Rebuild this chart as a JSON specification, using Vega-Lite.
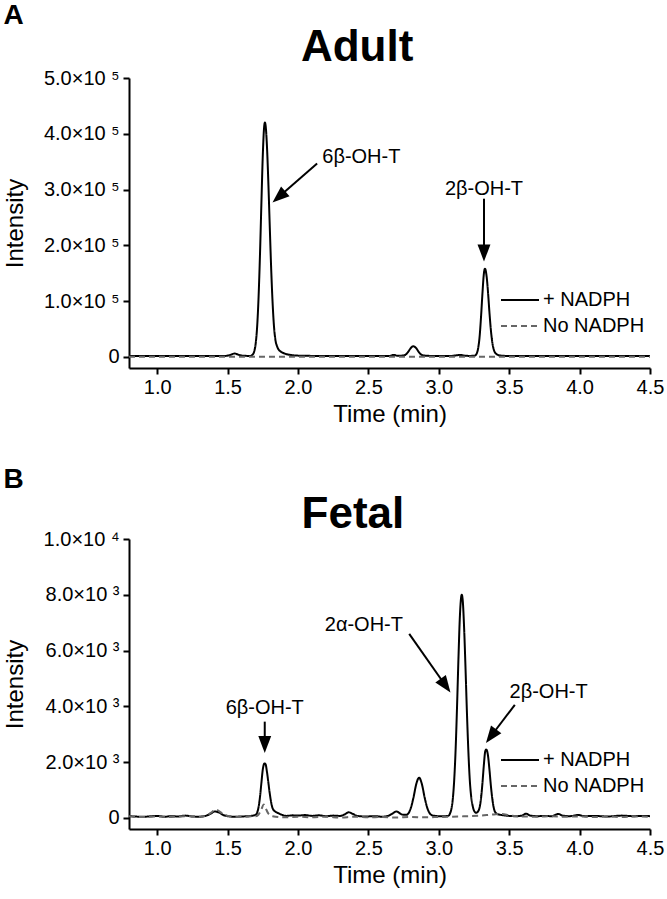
{
  "$schema": "https://vega.github.io/schema/vega-lite/v6.json",
  "padding": {"left": 3, "top": 2, "right": 3, "bottom": 5},
  "spacing": 40,
  "config": {
    "font": "Liberation Sans",
    "view": {"stroke": null},
    "axis": {
      "labelFont": "Liberation Sans", "labelFontSize": 20, "labelColor": "#000",
      "titleFont": "Liberation Sans", "titleFontSize": 24, "titleFontWeight": "normal", "titleColor": "#000",
      "domainColor": "#000", "domainWidth": 2, "tickColor": "#000", "tickWidth": 2, "tickSize": 6,
      "grid": false, "labelFlush": false, "labelOverlap": false
    },
    "legend": {
      "labelFont": "Liberation Sans", "labelFontSize": 20, "labelColor": "#000",
      "symbolType": "stroke", "symbolSize": 1444, "symbolStrokeWidth": 2,
      "clipHeight": 20, "rowPadding": 6, "labelOffset": 3, "padding": 0
    },
    "text": {"font": "Liberation Sans", "color": "#000"}
  },
  "resolve": {
    "scale": {"color": "independent", "strokeDash": "independent"},
    "legend": {"color": "independent", "strokeDash": "independent"}
  },
  "datasets": {
    "adult": [
      {"t":0.80,"v":1500,"s":"+ NADPH"},{"t":0.90,"v":1400,"s":"+ NADPH"},{"t":1.00,"v":1600,"s":"+ NADPH"},{"t":1.10,"v":1500,"s":"+ NADPH"},{"t":1.20,"v":1400,"s":"+ NADPH"},{"t":1.30,"v":1600,"s":"+ NADPH"},{"t":1.40,"v":1500,"s":"+ NADPH"},{"t":1.48,"v":1600,"s":"+ NADPH"},{"t":1.52,"v":3500,"s":"+ NADPH"},{"t":1.55,"v":6000,"s":"+ NADPH"},{"t":1.58,"v":3500,"s":"+ NADPH"},{"t":1.62,"v":1800,"s":"+ NADPH"},{"t":1.66,"v":1700,"s":"+ NADPH"},{"t":1.68,"v":4500,"s":"+ NADPH"},{"t":1.69,"v":10300,"s":"+ NADPH"},{"t":1.70,"v":24500,"s":"+ NADPH"},{"t":1.71,"v":54000,"s":"+ NADPH"},{"t":1.72,"v":106000,"s":"+ NADPH"},{"t":1.73,"v":181500,"s":"+ NADPH"},{"t":1.74,"v":273000,"s":"+ NADPH"},{"t":1.75,"v":360000,"s":"+ NADPH"},{"t":1.76,"v":413000,"s":"+ NADPH"},{"t":1.765,"v":420000,"s":"+ NADPH"},{"t":1.77,"v":415000,"s":"+ NADPH"},{"t":1.78,"v":376000,"s":"+ NADPH"},{"t":1.79,"v":309500,"s":"+ NADPH"},{"t":1.80,"v":231000,"s":"+ NADPH"},{"t":1.81,"v":156000,"s":"+ NADPH"},{"t":1.82,"v":96000,"s":"+ NADPH"},{"t":1.83,"v":53500,"s":"+ NADPH"},{"t":1.84,"v":30000,"s":"+ NADPH"},{"t":1.85,"v":20000,"s":"+ NADPH"},{"t":1.86,"v":14000,"s":"+ NADPH"},{"t":1.88,"v":9000,"s":"+ NADPH"},{"t":1.90,"v":6500,"s":"+ NADPH"},{"t":1.93,"v":4200,"s":"+ NADPH"},{"t":1.97,"v":2800,"s":"+ NADPH"},{"t":2.02,"v":2000,"s":"+ NADPH"},{"t":2.10,"v":1700,"s":"+ NADPH"},{"t":2.20,"v":1500,"s":"+ NADPH"},{"t":2.30,"v":1600,"s":"+ NADPH"},{"t":2.40,"v":1500,"s":"+ NADPH"},{"t":2.50,"v":1600,"s":"+ NADPH"},{"t":2.60,"v":1500,"s":"+ NADPH"},{"t":2.65,"v":1700,"s":"+ NADPH"},{"t":2.68,"v":3500,"s":"+ NADPH"},{"t":2.71,"v":1800,"s":"+ NADPH"},{"t":2.74,"v":2200,"s":"+ NADPH"},{"t":2.76,"v":3300,"s":"+ NADPH"},{"t":2.78,"v":8000,"s":"+ NADPH"},{"t":2.80,"v":15400,"s":"+ NADPH"},{"t":2.82,"v":19000,"s":"+ NADPH"},{"t":2.84,"v":15400,"s":"+ NADPH"},{"t":2.86,"v":8000,"s":"+ NADPH"},{"t":2.88,"v":3300,"s":"+ NADPH"},{"t":2.92,"v":1800,"s":"+ NADPH"},{"t":3.00,"v":1500,"s":"+ NADPH"},{"t":3.08,"v":1600,"s":"+ NADPH"},{"t":3.12,"v":2500,"s":"+ NADPH"},{"t":3.15,"v":3500,"s":"+ NADPH"},{"t":3.18,"v":2300,"s":"+ NADPH"},{"t":3.22,"v":1700,"s":"+ NADPH"},{"t":3.25,"v":2000,"s":"+ NADPH"},{"t":3.26,"v":2800,"s":"+ NADPH"},{"t":3.27,"v":6400,"s":"+ NADPH"},{"t":3.28,"v":16000,"s":"+ NADPH"},{"t":3.29,"v":36500,"s":"+ NADPH"},{"t":3.30,"v":71500,"s":"+ NADPH"},{"t":3.31,"v":113500,"s":"+ NADPH"},{"t":3.32,"v":148500,"s":"+ NADPH"},{"t":3.328,"v":158000,"s":"+ NADPH"},{"t":3.34,"v":143500,"s":"+ NADPH"},{"t":3.35,"v":114500,"s":"+ NADPH"},{"t":3.36,"v":79000,"s":"+ NADPH"},{"t":3.37,"v":48000,"s":"+ NADPH"},{"t":3.38,"v":26000,"s":"+ NADPH"},{"t":3.39,"v":13500,"s":"+ NADPH"},{"t":3.40,"v":7500,"s":"+ NADPH"},{"t":3.42,"v":3500,"s":"+ NADPH"},{"t":3.45,"v":2000,"s":"+ NADPH"},{"t":3.50,"v":1600,"s":"+ NADPH"},{"t":3.60,"v":1500,"s":"+ NADPH"},{"t":3.70,"v":1600,"s":"+ NADPH"},{"t":3.80,"v":1500,"s":"+ NADPH"},{"t":3.90,"v":1400,"s":"+ NADPH"},{"t":4.00,"v":1600,"s":"+ NADPH"},{"t":4.10,"v":1500,"s":"+ NADPH"},{"t":4.20,"v":1500,"s":"+ NADPH"},{"t":4.30,"v":1600,"s":"+ NADPH"},{"t":4.40,"v":1500,"s":"+ NADPH"},{"t":4.50,"v":1500,"s":"+ NADPH"},
      {"t":0.80,"v":0,"s":"No NADPH"},{"t":1.20,"v":0,"s":"No NADPH"},{"t":1.60,"v":0,"s":"No NADPH"},{"t":2.00,"v":0,"s":"No NADPH"},{"t":2.40,"v":0,"s":"No NADPH"},{"t":2.80,"v":0,"s":"No NADPH"},{"t":3.20,"v":0,"s":"No NADPH"},{"t":3.60,"v":0,"s":"No NADPH"},{"t":4.00,"v":0,"s":"No NADPH"},{"t":4.50,"v":0,"s":"No NADPH"}
    ],
    "fetal": [
      {"t":0.80,"v":60,"s":"+ NADPH"},{"t":0.90,"v":40,"s":"+ NADPH"},{"t":1.00,"v":70,"s":"+ NADPH"},{"t":1.05,"v":40,"s":"+ NADPH"},{"t":1.10,"v":60,"s":"+ NADPH"},{"t":1.15,"v":50,"s":"+ NADPH"},{"t":1.20,"v":80,"s":"+ NADPH"},{"t":1.25,"v":50,"s":"+ NADPH"},{"t":1.30,"v":40,"s":"+ NADPH"},{"t":1.35,"v":80,"s":"+ NADPH"},{"t":1.38,"v":150,"s":"+ NADPH"},{"t":1.41,"v":230,"s":"+ NADPH"},{"t":1.44,"v":190,"s":"+ NADPH"},{"t":1.47,"v":100,"s":"+ NADPH"},{"t":1.50,"v":60,"s":"+ NADPH"},{"t":1.55,"v":40,"s":"+ NADPH"},{"t":1.60,"v":50,"s":"+ NADPH"},{"t":1.65,"v":60,"s":"+ NADPH"},{"t":1.68,"v":80,"s":"+ NADPH"},{"t":1.70,"v":110,"s":"+ NADPH"},{"t":1.71,"v":190,"s":"+ NADPH"},{"t":1.72,"v":380,"s":"+ NADPH"},{"t":1.73,"v":740,"s":"+ NADPH"},{"t":1.74,"v":1240,"s":"+ NADPH"},{"t":1.75,"v":1730,"s":"+ NADPH"},{"t":1.762,"v":1950,"s":"+ NADPH"},{"t":1.77,"v":1920,"s":"+ NADPH"},{"t":1.78,"v":1640,"s":"+ NADPH"},{"t":1.79,"v":1250,"s":"+ NADPH"},{"t":1.80,"v":860,"s":"+ NADPH"},{"t":1.81,"v":545,"s":"+ NADPH"},{"t":1.82,"v":340,"s":"+ NADPH"},{"t":1.84,"v":220,"s":"+ NADPH"},{"t":1.86,"v":170,"s":"+ NADPH"},{"t":1.88,"v":120,"s":"+ NADPH"},{"t":1.92,"v":70,"s":"+ NADPH"},{"t":1.96,"v":90,"s":"+ NADPH"},{"t":2.00,"v":80,"s":"+ NADPH"},{"t":2.05,"v":100,"s":"+ NADPH"},{"t":2.10,"v":70,"s":"+ NADPH"},{"t":2.15,"v":90,"s":"+ NADPH"},{"t":2.20,"v":60,"s":"+ NADPH"},{"t":2.25,"v":80,"s":"+ NADPH"},{"t":2.30,"v":70,"s":"+ NADPH"},{"t":2.33,"v":120,"s":"+ NADPH"},{"t":2.36,"v":200,"s":"+ NADPH"},{"t":2.39,"v":140,"s":"+ NADPH"},{"t":2.42,"v":70,"s":"+ NADPH"},{"t":2.48,"v":50,"s":"+ NADPH"},{"t":2.55,"v":60,"s":"+ NADPH"},{"t":2.60,"v":40,"s":"+ NADPH"},{"t":2.64,"v":70,"s":"+ NADPH"},{"t":2.67,"v":150,"s":"+ NADPH"},{"t":2.70,"v":230,"s":"+ NADPH"},{"t":2.73,"v":140,"s":"+ NADPH"},{"t":2.75,"v":110,"s":"+ NADPH"},{"t":2.77,"v":110,"s":"+ NADPH"},{"t":2.78,"v":135,"s":"+ NADPH"},{"t":2.80,"v":330,"s":"+ NADPH"},{"t":2.82,"v":720,"s":"+ NADPH"},{"t":2.84,"v":1210,"s":"+ NADPH"},{"t":2.86,"v":1440,"s":"+ NADPH"},{"t":2.88,"v":1210,"s":"+ NADPH"},{"t":2.90,"v":720,"s":"+ NADPH"},{"t":2.92,"v":330,"s":"+ NADPH"},{"t":2.94,"v":135,"s":"+ NADPH"},{"t":2.96,"v":80,"s":"+ NADPH"},{"t":3.00,"v":60,"s":"+ NADPH"},{"t":3.04,"v":60,"s":"+ NADPH"},{"t":3.07,"v":80,"s":"+ NADPH"},{"t":3.08,"v":160,"s":"+ NADPH"},{"t":3.09,"v":330,"s":"+ NADPH"},{"t":3.10,"v":700,"s":"+ NADPH"},{"t":3.11,"v":1400,"s":"+ NADPH"},{"t":3.12,"v":2510,"s":"+ NADPH"},{"t":3.13,"v":4050,"s":"+ NADPH"},{"t":3.14,"v":5770,"s":"+ NADPH"},{"t":3.15,"v":7240,"s":"+ NADPH"},{"t":3.163,"v":8000,"s":"+ NADPH"},{"t":3.17,"v":7800,"s":"+ NADPH"},{"t":3.18,"v":6800,"s":"+ NADPH"},{"t":3.19,"v":5340,"s":"+ NADPH"},{"t":3.20,"v":3760,"s":"+ NADPH"},{"t":3.21,"v":2400,"s":"+ NADPH"},{"t":3.22,"v":1370,"s":"+ NADPH"},{"t":3.23,"v":765,"s":"+ NADPH"},{"t":3.24,"v":445,"s":"+ NADPH"},{"t":3.25,"v":260,"s":"+ NADPH"},{"t":3.265,"v":180,"s":"+ NADPH"},{"t":3.28,"v":240,"s":"+ NADPH"},{"t":3.29,"v":375,"s":"+ NADPH"},{"t":3.30,"v":700,"s":"+ NADPH"},{"t":3.31,"v":1240,"s":"+ NADPH"},{"t":3.32,"v":1890,"s":"+ NADPH"},{"t":3.33,"v":2390,"s":"+ NADPH"},{"t":3.337,"v":2450,"s":"+ NADPH"},{"t":3.34,"v":2440,"s":"+ NADPH"},{"t":3.35,"v":2210,"s":"+ NADPH"},{"t":3.36,"v":1720,"s":"+ NADPH"},{"t":3.37,"v":1150,"s":"+ NADPH"},{"t":3.38,"v":690,"s":"+ NADPH"},{"t":3.39,"v":370,"s":"+ NADPH"},{"t":3.40,"v":210,"s":"+ NADPH"},{"t":3.42,"v":130,"s":"+ NADPH"},{"t":3.45,"v":100,"s":"+ NADPH"},{"t":3.50,"v":70,"s":"+ NADPH"},{"t":3.55,"v":60,"s":"+ NADPH"},{"t":3.59,"v":80,"s":"+ NADPH"},{"t":3.62,"v":150,"s":"+ NADPH"},{"t":3.65,"v":80,"s":"+ NADPH"},{"t":3.70,"v":60,"s":"+ NADPH"},{"t":3.75,"v":70,"s":"+ NADPH"},{"t":3.80,"v":60,"s":"+ NADPH"},{"t":3.85,"v":140,"s":"+ NADPH"},{"t":3.88,"v":80,"s":"+ NADPH"},{"t":3.93,"v":60,"s":"+ NADPH"},{"t":3.99,"v":100,"s":"+ NADPH"},{"t":4.04,"v":60,"s":"+ NADPH"},{"t":4.10,"v":70,"s":"+ NADPH"},{"t":4.20,"v":50,"s":"+ NADPH"},{"t":4.30,"v":80,"s":"+ NADPH"},{"t":4.38,"v":60,"s":"+ NADPH"},{"t":4.45,"v":70,"s":"+ NADPH"},{"t":4.50,"v":60,"s":"+ NADPH"},
      {"t":0.80,"v":60,"s":"No NADPH"},{"t":0.90,"v":30,"s":"No NADPH"},{"t":1.00,"v":50,"s":"No NADPH"},{"t":1.10,"v":30,"s":"No NADPH"},{"t":1.20,"v":60,"s":"No NADPH"},{"t":1.30,"v":40,"s":"No NADPH"},{"t":1.35,"v":80,"s":"No NADPH"},{"t":1.38,"v":180,"s":"No NADPH"},{"t":1.42,"v":290,"s":"No NADPH"},{"t":1.46,"v":170,"s":"No NADPH"},{"t":1.50,"v":70,"s":"No NADPH"},{"t":1.55,"v":40,"s":"No NADPH"},{"t":1.60,"v":30,"s":"No NADPH"},{"t":1.65,"v":50,"s":"No NADPH"},{"t":1.70,"v":60,"s":"No NADPH"},{"t":1.72,"v":120,"s":"No NADPH"},{"t":1.74,"v":300,"s":"No NADPH"},{"t":1.756,"v":480,"s":"No NADPH"},{"t":1.77,"v":350,"s":"No NADPH"},{"t":1.79,"v":150,"s":"No NADPH"},{"t":1.82,"v":60,"s":"No NADPH"},{"t":1.90,"v":20,"s":"No NADPH"},{"t":2.00,"v":40,"s":"No NADPH"},{"t":2.10,"v":20,"s":"No NADPH"},{"t":2.20,"v":40,"s":"No NADPH"},{"t":2.30,"v":10,"s":"No NADPH"},{"t":2.40,"v":40,"s":"No NADPH"},{"t":2.50,"v":20,"s":"No NADPH"},{"t":2.60,"v":30,"s":"No NADPH"},{"t":2.70,"v":10,"s":"No NADPH"},{"t":2.80,"v":30,"s":"No NADPH"},{"t":2.90,"v":20,"s":"No NADPH"},{"t":3.00,"v":30,"s":"No NADPH"},{"t":3.10,"v":40,"s":"No NADPH"},{"t":3.20,"v":60,"s":"No NADPH"},{"t":3.30,"v":80,"s":"No NADPH"},{"t":3.38,"v":120,"s":"No NADPH"},{"t":3.45,"v":140,"s":"No NADPH"},{"t":3.50,"v":90,"s":"No NADPH"},{"t":3.60,"v":50,"s":"No NADPH"},{"t":3.70,"v":40,"s":"No NADPH"},{"t":3.80,"v":60,"s":"No NADPH"},{"t":3.90,"v":40,"s":"No NADPH"},{"t":4.00,"v":50,"s":"No NADPH"},{"t":4.10,"v":30,"s":"No NADPH"},{"t":4.20,"v":50,"s":"No NADPH"},{"t":4.30,"v":30,"s":"No NADPH"},{"t":4.40,"v":50,"s":"No NADPH"},{"t":4.50,"v":40,"s":"No NADPH"}
    ],
    "adultNotes": [{"t":2.45,"v":348400,"label":"6β-OH-T"},{"t":3.321,"v":291000,"label":"2β-OH-T"}],
    "adultArrows": [{"t":2.136,"v":346600,"t2":1.861,"v2":286000},{"t":3.321,"v":283600,"t2":3.321,"v2":185200}],
    "adultHead6b": [{"t":1.819,"v":276700}],
    "adultHead2b": [{"t":3.321,"v":170900}],
    "adultTitle": [{"t":2.42,"v":531300,"label":"Adult"}],
    "adultLetter": [{"t":-0.092,"v":596000,"label":"A"}],
    "fetalNotes": [{"t":1.764,"v":3730,"label":"6β-OH-T"},{"t":2.468,"v":6716,"label":"2α-OH-T"},{"t":3.78,"v":4306,"label":"2β-OH-T"}],
    "fetalArrows": [{"t":1.764,"v":3450,"t2":1.764,"v2":2615},{"t":2.79,"v":6597,"t2":3.05,"v2":4730},{"t":3.54,"v":4054,"t2":3.369,"v2":2917}],
    "fetalHead6b": [{"t":1.764,"v":2327}],
    "fetalHead2a": [{"t":3.083,"v":4496}],
    "fetalHead2b": [{"t":3.335,"v":2687}],
    "fetalTitle": [{"t":2.39,"v":10385,"label":"Fetal"}],
    "fetalLetter": [{"t":-0.092,"v":11823,"label":"B"}]
  },
  "vconcat": [
    {
      "width": 521, "height": 290,
      "layer": [
        {
          "data": {"name": "adult"},
          "mark": {"type": "line", "strokeWidth": 2, "interpolate": "monotone"},
          "encoding": {
            "x": {"field": "t", "type": "quantitative", "scale": {"domain": [0.8, 4.5], "nice": false, "zero": false},
                  "axis": {"title": "Time (min)", "values": [1, 1.5, 2, 2.5, 3, 3.5, 4, 4.5], "format": ".1f", "labelPadding": 3, "titlePadding": 5}},
            "y": {"field": "v", "type": "quantitative", "scale": {"domain": [-20000, 500000], "nice": false, "zero": false},
                  "axis": {"title": "Intensity", "values": [0, 100000, 200000, 300000, 400000, 500000], "labelPadding": 4, "titlePadding": 16,
                           "labelExpr": "datum.value == 0 ? '0' : format(datum.value / 100000, '.1f') + '×10 ⁵'"}},
            "color": {"field": "s", "type": "nominal", "scale": {"domain": ["+ NADPH", "No NADPH"], "range": ["#000000", "#666666"]},
                      "legend": {"title": null, "orient": "none", "legendX": 371, "legendY": 212}},
            "strokeDash": {"field": "s", "type": "nominal", "scale": {"domain": ["+ NADPH", "No NADPH"], "range": [[1, 0], [6, 4]]},
                           "legend": {"title": null, "orient": "none", "legendX": 371, "legendY": 212}}
          }
        },
        {
          "data": {"name": "adultArrows"},
          "mark": {"type": "rule", "strokeWidth": 2, "color": "#000"},
          "encoding": {"x": {"field": "t", "type": "quantitative"}, "y": {"field": "v", "type": "quantitative"}, "x2": {"field": "t2"}, "y2": {"field": "v2"}}
        },
        {
          "data": {"name": "adultHead6b"},
          "mark": {"type": "point", "shape": "M0,0L0.38,1L-0.38,1Z", "size": 1156, "filled": true, "color": "#000", "opacity": 1, "angle": 229},
          "encoding": {"x": {"field": "t", "type": "quantitative"}, "y": {"field": "v", "type": "quantitative"}}
        },
        {
          "data": {"name": "adultHead2b"},
          "mark": {"type": "point", "shape": "M0,0L0.38,1L-0.38,1Z", "size": 1156, "filled": true, "color": "#000", "opacity": 1, "angle": 180},
          "encoding": {"x": {"field": "t", "type": "quantitative"}, "y": {"field": "v", "type": "quantitative"}}
        },
        {
          "data": {"name": "adultNotes"},
          "mark": {"type": "text", "fontSize": 20, "align": "center", "baseline": "alphabetic"},
          "encoding": {"x": {"field": "t", "type": "quantitative"}, "y": {"field": "v", "type": "quantitative"}, "text": {"field": "label"}}
        },
        {
          "data": {"name": "adultTitle"},
          "mark": {"type": "text", "fontSize": 44, "fontWeight": "bold", "align": "center", "baseline": "alphabetic"},
          "encoding": {"x": {"field": "t", "type": "quantitative"}, "y": {"field": "v", "type": "quantitative"}, "text": {"field": "label"}}
        },
        {
          "data": {"name": "adultLetter"},
          "mark": {"type": "text", "fontSize": 28, "fontWeight": "bold", "align": "left", "baseline": "alphabetic"},
          "encoding": {"x": {"field": "t", "type": "quantitative"}, "y": {"field": "v", "type": "quantitative"}, "text": {"field": "label"}}
        }
      ]
    },
    {
      "width": 521, "height": 290,
      "layer": [
        {
          "data": {"name": "fetal"},
          "mark": {"type": "line", "strokeWidth": 2, "interpolate": "monotone"},
          "encoding": {
            "x": {"field": "t", "type": "quantitative", "scale": {"domain": [0.8, 4.5], "nice": false, "zero": false},
                  "axis": {"title": "Time (min)", "values": [1, 1.5, 2, 2.5, 3, 3.5, 4, 4.5], "format": ".1f", "labelPadding": 3, "titlePadding": 5}},
            "y": {"field": "v", "type": "quantitative", "scale": {"domain": [-400, 10000], "nice": false, "zero": false},
                  "axis": {"title": "Intensity", "values": [0, 2000, 4000, 6000, 8000, 10000], "labelPadding": 4, "titlePadding": 16,
                           "labelExpr": "datum.value == 0 ? '0' : datum.value >= 10000 ? format(datum.value / 10000, '.1f') + '×10 ⁴' : format(datum.value / 1000, '.1f') + '×10 ³'"}},
            "color": {"field": "s", "type": "nominal", "scale": {"domain": ["+ NADPH", "No NADPH"], "range": ["#000000", "#666666"]},
                      "legend": {"title": null, "orient": "none", "legendX": 371, "legendY": 211}},
            "strokeDash": {"field": "s", "type": "nominal", "scale": {"domain": ["+ NADPH", "No NADPH"], "range": [[1, 0], [6, 4]]},
                           "legend": {"title": null, "orient": "none", "legendX": 371, "legendY": 211}}
          }
        },
        {
          "data": {"name": "fetalArrows"},
          "mark": {"type": "rule", "strokeWidth": 2, "color": "#000"},
          "encoding": {"x": {"field": "t", "type": "quantitative"}, "y": {"field": "v", "type": "quantitative"}, "x2": {"field": "t2"}, "y2": {"field": "v2"}}
        },
        {
          "data": {"name": "fetalHead6b"},
          "mark": {"type": "point", "shape": "M0,0L0.38,1L-0.38,1Z", "size": 1156, "filled": true, "color": "#000", "opacity": 1, "angle": 180},
          "encoding": {"x": {"field": "t", "type": "quantitative"}, "y": {"field": "v", "type": "quantitative"}}
        },
        {
          "data": {"name": "fetalHead2a"},
          "mark": {"type": "point", "shape": "M0,0L0.38,1L-0.38,1Z", "size": 1156, "filled": true, "color": "#000", "opacity": 1, "angle": 144.5},
          "encoding": {"x": {"field": "t", "type": "quantitative"}, "y": {"field": "v", "type": "quantitative"}}
        },
        {
          "data": {"name": "fetalHead2b"},
          "mark": {"type": "point", "shape": "M0,0L0.38,1L-0.38,1Z", "size": 1156, "filled": true, "color": "#000", "opacity": 1, "angle": 217},
          "encoding": {"x": {"field": "t", "type": "quantitative"}, "y": {"field": "v", "type": "quantitative"}}
        },
        {
          "data": {"name": "fetalNotes"},
          "mark": {"type": "text", "fontSize": 20, "align": "center", "baseline": "alphabetic"},
          "encoding": {"x": {"field": "t", "type": "quantitative"}, "y": {"field": "v", "type": "quantitative"}, "text": {"field": "label"}}
        },
        {
          "data": {"name": "fetalTitle"},
          "mark": {"type": "text", "fontSize": 44, "fontWeight": "bold", "align": "center", "baseline": "alphabetic"},
          "encoding": {"x": {"field": "t", "type": "quantitative"}, "y": {"field": "v", "type": "quantitative"}, "text": {"field": "label"}}
        },
        {
          "data": {"name": "fetalLetter"},
          "mark": {"type": "text", "fontSize": 28, "fontWeight": "bold", "align": "left", "baseline": "alphabetic"},
          "encoding": {"x": {"field": "t", "type": "quantitative"}, "y": {"field": "v", "type": "quantitative"}, "text": {"field": "label"}}
        }
      ]
    }
  ]
}
